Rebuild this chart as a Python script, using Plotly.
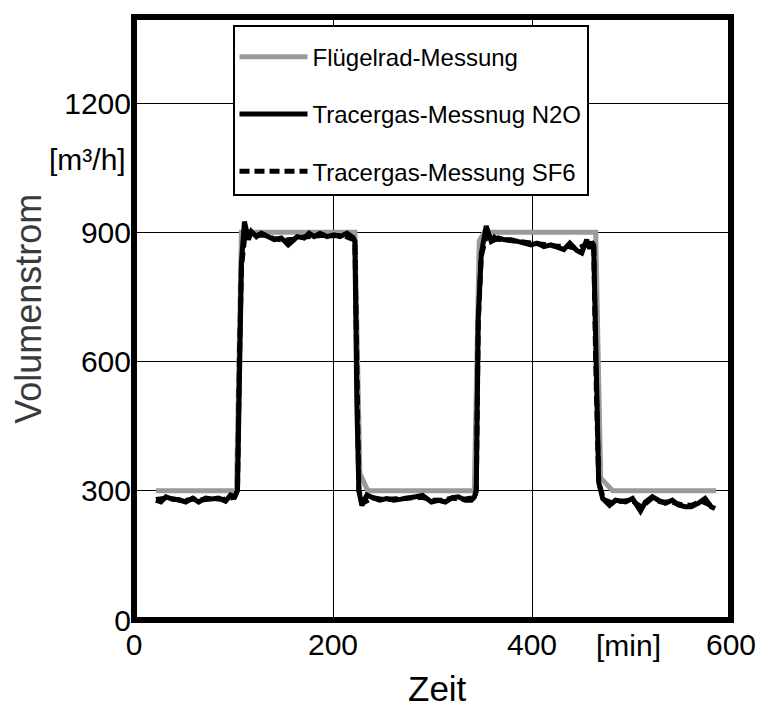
import plotly.graph_objects as go

# Flügelrad-Messung (impeller measurement)
t_fluegel = [22, 103, 108, 222, 227, 235, 342, 347, 352, 464, 469, 481, 585]
v_fluegel = [300, 300, 900, 900, 340, 300, 300, 880, 900, 900, 330, 300, 300]

# Tracergas-Messung N2O
t_n2o = [22, 27, 32, 39, 45, 52, 59, 65, 72, 78, 85, 92, 97, 101,
         104, 106, 108, 111, 115, 118, 123, 128, 135, 141, 148, 155, 159, 164,
         171, 176, 181, 187, 194, 201, 207, 214, 220, 222,
         224, 226, 229, 234, 241, 247, 254, 261, 267, 277, 283, 290, 299, 306,
         313, 320, 326, 333, 339, 342,
         344, 346, 349, 354, 359, 366, 372, 379, 386, 392, 399, 405, 412, 419,
         425, 432, 438, 445, 450, 455, 458, 460, 462,
         464, 467, 471, 478, 484, 494, 501, 509, 514, 521, 527, 534, 541, 547,
         554, 560, 567, 574, 580, 584]
v_n2o = [278, 274, 286, 280, 279, 274, 283, 274, 283, 281, 283, 276, 290, 286,
         300, 620, 830, 925, 883, 902, 890, 898, 890, 883, 887, 871, 879, 890,
         887, 898, 890, 898, 890, 894, 890, 898, 888, 880,
         500, 300, 266, 290, 283, 278, 282, 278, 280, 282, 286, 289, 274, 278,
         274, 284, 286, 278, 278, 285,
         300, 700, 850, 915, 879, 887, 883, 883, 879, 875, 871, 875, 867, 871,
         867, 860, 875, 858, 852, 883, 862, 878, 870,
         600, 320, 282, 266, 278, 274, 282, 253, 274, 286, 278, 271, 278, 267,
         263, 263, 271, 282, 263, 259]

# Tracergas-Messung SF6
t_sf6 = [22, 30, 40, 50, 60, 70, 80, 90, 101,
         104, 106, 108, 112, 120, 130, 140, 150, 160, 170, 180, 190, 200, 210, 222,
         224, 226, 230, 240, 250, 260, 270, 280, 290, 300, 310, 320, 330, 342,
         344, 346, 349, 355, 365, 375, 385, 395, 405, 415, 425, 435, 445, 455, 462,
         464, 467, 472, 480, 490, 500, 510, 520, 530, 540, 550, 560, 570, 584]
v_sf6 = [280, 282, 281, 277, 281, 279, 282, 280, 285,
         300, 610, 820, 905, 893, 894, 886, 882, 884, 889, 892, 893, 892, 893, 882,
         500, 300, 272, 284, 280, 280, 282, 284, 285, 278, 278, 283, 280, 284,
         300, 690, 845, 900, 884, 882, 879, 875, 873, 870, 868, 868, 862, 872, 870,
         600, 320, 280, 272, 276, 278, 262, 282, 274, 274, 268, 266, 276, 262]

fig = go.Figure()
fig.add_trace(go.Scatter(x=t_fluegel, y=v_fluegel, mode="lines", name="Flügelrad-Messung",
                         line=dict(color="#9a9a9a", width=5), legendrank=1,
                         legendgroup="a"))
fig.add_trace(go.Scatter(x=t_sf6, y=v_sf6, mode="lines", name="Tracergas-Messung SF6",
                         line=dict(color="black", width=5, dash="10px,5px"), legendrank=3,
                         legendgroup="c"))
fig.add_trace(go.Scatter(x=t_n2o, y=v_n2o, mode="lines", name="Tracergas-Messnug N2O",
                         line=dict(color="black", width=5), legendrank=2,
                         legendgroup="b"))

fig.update_layout(
    width=768, height=709,
    margin=dict(l=134, r=28, t=17, b=89),
    paper_bgcolor="white", plot_bgcolor="white",
    font=dict(family="Liberation Sans, Arial, sans-serif", color="black"),
    showlegend=True,
    legend=dict(x=0.165, y=0.987, xanchor="left", yanchor="top",
                bgcolor="white", bordercolor="black", borderwidth=2,
                font=dict(size=24, color="black"), tracegroupgap=23,
                itemwidth=68,
                title=dict(text=" ", font=dict(size=6))),
    xaxis=dict(range=[0, 600], tickvals=[0, 200, 400, 600],
               showgrid=True, gridcolor="black", gridwidth=1, zeroline=False,
               tickfont=dict(size=30), ticks="", showline=False,
               ticklabelstandoff=4),
    yaxis=dict(range=[0, 1400], tickvals=[0, 300, 600, 900, 1200],
               showgrid=True, gridcolor="black", gridwidth=1, zeroline=False,
               tickfont=dict(size=30), ticks="", showline=False,
               ticklabelstandoff=2),
    shapes=[dict(type="rect", xref="paper", yref="paper", x0=0, x1=1, y0=0, y1=1,
                 line=dict(color="black", width=6), layer="above")],
    annotations=[
        dict(text="Volumenstrom", textangle=-90, xref="paper", yref="paper",
             x=-0.176, y=0.516, xanchor="center", yanchor="middle", showarrow=False,
             font=dict(size=36, color="#3a3a3a")),
        dict(text="Zeit", xref="paper", yref="paper", x=0.508, y=-0.113,
             xanchor="center", yanchor="middle", showarrow=False,
             font=dict(size=35, color="black")),
        dict(text="[m³/h]", xref="paper", yref="paper", x=-0.0099, y=0.7645,
             xanchor="right", yanchor="middle", showarrow=False,
             font=dict(size=30, color="black")),
        dict(text="[min]", xref="paper", yref="paper", x=0.828, y=-0.043,
             xanchor="center", yanchor="middle", showarrow=False,
             font=dict(size=30, color="black")),
    ],
)

fig.write_html("out.html", config={"displayModeBar": False},
               post_script="document.body.style.margin='0';")
